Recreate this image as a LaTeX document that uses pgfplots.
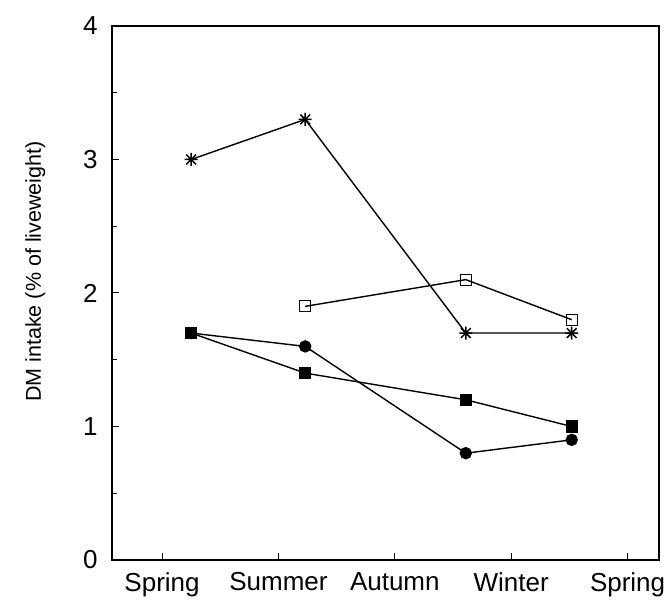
\documentclass[border=0pt]{standalone}
\usepackage{pgfplots}
\pgfplotsset{compat=1.18}
\usepackage{fontspec}
\setmainfont{Liberation Sans}

% eight-armed star mark
\pgfdeclareplotmark{star8}{%
  \pgfpathmoveto{\pgfqpoint{0pt}{\pgfplotmarksize}}%
  \pgfpathlineto{\pgfqpoint{0pt}{-\pgfplotmarksize}}%
  \pgfpathmoveto{\pgfqpoint{\pgfplotmarksize}{0pt}}%
  \pgfpathlineto{\pgfqpoint{-\pgfplotmarksize}{0pt}}%
  \pgfpathmoveto{\pgfqpoint{0.75\pgfplotmarksize}{0.75\pgfplotmarksize}}%
  \pgfpathlineto{\pgfqpoint{-0.75\pgfplotmarksize}{-0.75\pgfplotmarksize}}%
  \pgfpathmoveto{\pgfqpoint{0.75\pgfplotmarksize}{-0.75\pgfplotmarksize}}%
  \pgfpathlineto{\pgfqpoint{-0.75\pgfplotmarksize}{0.75\pgfplotmarksize}}%
  \pgfusepathqstroke}

\begin{document}
\begin{tikzpicture}
\begin{axis}[
  scale only axis, width=547pt, height=534pt,
  xmin=0.57, xmax=5.27, ymin=0, ymax=4,
  xtick={1,2,3,4,5},
  xticklabels={Spring,Summer,Autumn,Winter,Spring},
  ytick={0,1,2,3,4},
  minor ytick={0.5,1.5,2.5,3.5},
  tick align=inside, major tick length=7pt, minor tick length=5pt,
  xtick pos=bottom, ytick pos=left,
  tick style={black, line width=1pt},
  /pgf/number format/assume math mode=true,
  tick label style={font=\fontsize{26}{31}\selectfont},
  yticklabel style={xshift=-11pt},
  xticklabel style={yshift=-9pt},
  ylabel={DM intake (\% of liveweight)},
  ylabel style={font=\fontsize{21.5}{25}\selectfont,
    at={(axis description cs:-0.14,0.54)}, anchor=center},
  axis line style={line width=1.3pt},
  every axis plot/.append style={black, line width=1.4pt},
]
% circles
\addplot[mark=*, mark size=5.5pt] coordinates {
  (1.25,1.7) (2.23,1.6) (3.61,0.8) (4.52,0.9)};
% filled squares
\addplot[mark=square*, mark size=5.5pt] coordinates {
  (1.25,1.7) (2.23,1.4) (3.61,1.2) (4.52,1.0)};
% open squares
\addplot[mark=square, mark size=5.5pt, mark options={fill=white, line width=1.2pt}] coordinates {
  (2.23,1.9) (3.61,2.1) (4.52,1.8)};
% stars
\addplot[mark=star8, mark size=6.5pt, mark options={line width=1.5pt}] coordinates {
  (1.25,3.0) (2.23,3.3) (3.61,1.7) (4.52,1.7)};
\end{axis}
\pgfresetboundingbox
\useasboundingbox ([xshift=-112pt,yshift=-41pt]current axis.south west)
  rectangle ([xshift=7pt,yshift=26pt]current axis.north east);
\end{tikzpicture}
\end{document}
